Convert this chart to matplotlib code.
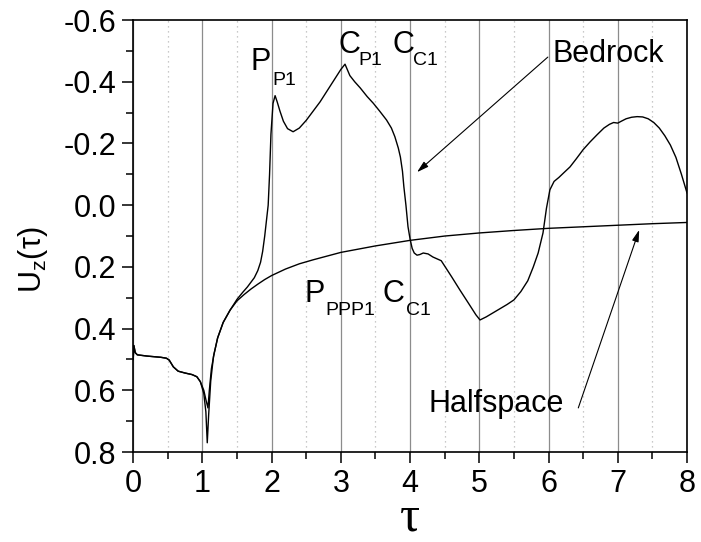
"""
Vertical surface displacement U_z(tau) for a layer on bedrock vs. a halfspace.
"""

import matplotlib.pyplot as plt
from matplotlib.ticker import MultipleLocator

plt.rcParams['font.family'] = ['Liberation Sans', 'DejaVu Sans']
plt.rcParams['axes.unicode_minus'] = False

# Layer over bedrock
tau_bedrock = [0.00, 0.01, 0.03, 0.06, 0.2, 0.4, 0.48, 0.52, 0.58, 0.65, 0.75, 0.85,
               0.92, 0.97, 1.02, 1.05, 1.07, 1.09, 1.12, 1.16, 1.22, 1.3, 1.4, 1.5,
               1.58, 1.65, 1.75, 1.8, 1.84, 1.87, 1.9, 1.93, 1.95, 1.97, 1.99, 2.02,
               2.05, 2.08, 2.12, 2.17, 2.23, 2.31, 2.4, 2.5, 2.6, 2.7, 2.8, 2.9, 3.0,
               3.06, 3.13, 3.2, 3.28, 3.38, 3.47, 3.56, 3.66, 3.73, 3.78, 3.83, 3.86,
               3.89, 3.91, 3.94, 3.97, 4.0, 4.03, 4.06, 4.1, 4.14, 4.19, 4.26, 4.33,
               4.45, 4.6, 4.72, 4.85, 4.95, 5.01, 5.1, 5.25, 5.4, 5.5, 5.6, 5.7, 5.78,
               5.85, 5.92, 5.97, 6.02, 6.08, 6.15, 6.22, 6.31, 6.4, 6.5, 6.6, 6.7, 6.8,
               6.88, 6.94, 7.0, 7.05, 7.12, 7.2, 7.28, 7.36, 7.44, 7.52, 7.6, 7.68,
               7.76, 7.84, 7.92, 8.0]
uz_bedrock = [0.50, 0.455, 0.478, 0.485, 0.489, 0.493, 0.496, 0.502, 0.524, 0.538, 0.544,
              0.549, 0.556, 0.572, 0.61, 0.67, 0.77, 0.68, 0.57, 0.49, 0.43, 0.38, 0.34,
              0.305, 0.283, 0.265, 0.235, 0.212, 0.185, 0.15, 0.1, 0.04, 0.0, -0.1, -0.23,
              -0.33, -0.355, -0.335, -0.305, -0.272, -0.248, -0.238, -0.25, -0.275,
              -0.305, -0.335, -0.37, -0.405, -0.44, -0.457, -0.42, -0.4, -0.38, -0.352,
              -0.33, -0.305, -0.276, -0.25, -0.222, -0.185, -0.156, -0.11, -0.06, 0.0,
              0.07, 0.11, 0.14, 0.155, 0.162, 0.16, 0.155, 0.158, 0.168, 0.18, 0.232,
              0.275, 0.32, 0.355, 0.372, 0.362, 0.342, 0.322, 0.307, 0.28, 0.245, 0.2,
              0.155, 0.09, 0.01, -0.05, -0.077, -0.09, -0.105, -0.124, -0.15, -0.18,
              -0.205, -0.228, -0.25, -0.262, -0.268, -0.266, -0.272, -0.28, -0.285,
              -0.287, -0.286, -0.28, -0.268, -0.25, -0.225, -0.195, -0.155, -0.1, -0.04]

# Homogeneous halfspace
tau_half = [0.00, 0.01, 0.03, 0.06, 0.2, 0.4, 0.48, 0.52, 0.58, 0.65, 0.75, 0.85,
            0.92, 0.97, 1.02, 1.05, 1.08, 1.10, 1.13, 1.17, 1.22, 1.3, 1.4, 1.5, 1.6,
            1.7, 1.8, 1.9, 2.0, 2.2, 2.4, 2.6, 2.8, 3.0, 3.5, 4.0, 4.5, 5.0, 5.5, 6.0,
            6.5, 7.0, 7.5, 8.0]
uz_half = [0.50, 0.455, 0.478, 0.485, 0.489, 0.493, 0.496, 0.502, 0.524, 0.538, 0.544,
           0.549, 0.556, 0.572, 0.60, 0.63, 0.657, 0.6, 0.53, 0.48, 0.43, 0.38, 0.34,
           0.31, 0.29, 0.272, 0.256, 0.241, 0.228, 0.207, 0.19, 0.177, 0.165, 0.153,
           0.132, 0.114, 0.1, 0.09, 0.082, 0.075, 0.07, 0.065, 0.06, 0.056]

# Phase labels: (tau, U_z) of base letter, (tau, U_z) of subscript
phase_labels = [('P', 'P1', 1.69, -0.438, 2.01, -0.39),
                ('C', 'P1', 2.96, -0.493, 3.25, -0.455),
                ('C', 'C1', 3.75, -0.493, 4.04, -0.455),
                ('P', 'PPP1', 2.48, 0.314, 2.77, 0.356),
                ('C', 'C1', 3.60, 0.314, 3.94, 0.356)]

fig = plt.figure(figsize=(7.01, 5.42), dpi=100)
ax = fig.add_axes([0.19, 0.166, 0.79, 0.797])

ax.plot(tau_bedrock, uz_bedrock, color='black', lw=1.0, zorder=3)
ax.plot(tau_half, uz_half, color='black', lw=1.0, zorder=3)

ax.set_xlim(0, 8)
ax.set_ylim(0.8, -0.6)
ax.xaxis.set_major_locator(MultipleLocator(1))
ax.xaxis.set_minor_locator(MultipleLocator(0.5))
ax.yaxis.set_major_locator(MultipleLocator(0.2))
ax.yaxis.set_minor_locator(MultipleLocator(0.1))
ax.yaxis.set_major_formatter(lambda v, pos: f'{v:.1f}')

ax.grid(which='major', axis='x', color='0.55', lw=0.9)
ax.grid(which='minor', axis='x', color='0.72', lw=0.9, ls=(0, (1, 3)))

ax.tick_params(which='both', direction='out', top=False, right=False,
               labelsize=22, width=1.1)
ax.tick_params(which='major', length=8, pad=4)
ax.tick_params(which='minor', length=5)
for s in ax.spines.values():
    s.set_linewidth(1.2)

for base, sub, bx, by, sx, sy in phase_labels:
    ax.text(bx, by, base, fontsize=22, ha='left', va='baseline')
    ax.text(sx, sy, sub, fontsize=14, ha='left', va='baseline')

ax.text(6.06, -0.464, 'Bedrock', fontsize=22, ha='left', va='baseline')
ax.text(4.26, 0.67, 'Halfspace', fontsize=22, ha='left', va='baseline')

arrow = dict(arrowstyle='-|>,head_length=0.7,head_width=0.2', color='black', lw=0.8,
             shrinkA=0, shrinkB=0)
ax.annotate('', xy=(4.10, -0.107), xytext=(5.99, -0.48), arrowprops=arrow)
ax.annotate('', xy=(7.31, 0.08), xytext=(6.43, 0.657), arrowprops=arrow)

ax.set_xlabel('τ', fontsize=36, family=['Liberation Serif', 'DejaVu Serif'], labelpad=-3)
fig.text(0.047, 0.52, r'U$_{\mathregular{z}}$(τ)', fontsize=22, rotation=90,
         ha='center', va='center')

plt.savefig('out.png', dpi=100)
